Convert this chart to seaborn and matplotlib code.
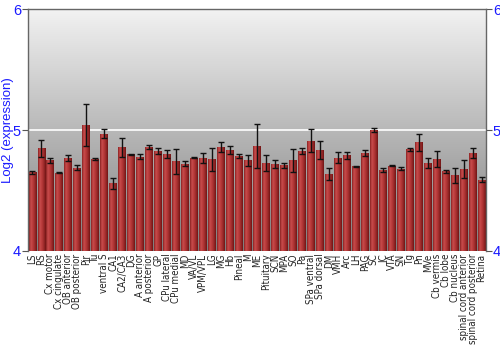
import numpy as np
import pandas as pd
import matplotlib
matplotlib.use("Agg")
import matplotlib.pyplot as plt
import seaborn as sns
from matplotlib import font_manager
from matplotlib.colors import LinearSegmentedColormap

categories = ["LS", "RS", "Cx motor", "Cx cingulate", "OB anterior", "OB posterior", "Pir", "Tu",
              "ventral S", "CA1", "CA2/CA3", "DG", "A anterior", "A posterior", "GP", "CPu lateral",
              "CPu medial", "MD", "VA/VL", "VPM/VPL", "LG", "MG", "Hb", "Pineal", "M", "ME",
              "Pituitary", "SCN", "MPA", "SO", "Pa", "SPa ventral", "SPa dorsal", "DM", "VMH", "Arc",
              "LH", "PAG", "SC", "IC", "VTA", "SN", "Tg", "Pn", "MVe", "Cb vermis", "Cb lobe",
              "Cb nucleus", "spinal cord anterior", "spinal cord posterior", "Retina"]
values = [4.65, 4.85, 4.75, 4.645, 4.77, 4.69, 5.04, 4.76, 4.97, 4.56, 4.857, 4.80, 4.78, 4.86,
          4.83, 4.80, 4.74, 4.72, 4.77, 4.77, 4.76, 4.86, 4.835, 4.785, 4.75, 4.87, 4.73, 4.72,
          4.71, 4.75, 4.83, 4.91, 4.835, 4.64, 4.77, 4.79, 4.70, 4.81, 5.00, 4.67, 4.705, 4.68,
          4.84, 4.90, 4.73, 4.76, 4.66, 4.625, 4.68, 4.81, 4.59]
errors = [0.01, 0.07, 0.02, 0.004, 0.025, 0.02, 0.175, 0.005, 0.035, 0.045, 0.08, 0.004, 0.02, 0.02,
          0.025, 0.035, 0.10, 0.02, 0.005, 0.04, 0.095, 0.045, 0.03, 0.02, 0.045, 0.18, 0.065, 0.03,
          0.02, 0.095, 0.025, 0.095, 0.075, 0.05, 0.045, 0.03, 0.004, 0.025, 0.02, 0.02, 0.005, 0.012,
          0.012, 0.07, 0.04, 0.065, 0.012, 0.065, 0.075, 0.04, 0.02]
y_ticks = [4, 5, 6]

df = pd.DataFrame({"region": categories, "value": values, "err": errors})

plt.rcParams['font.family'] = ['Liberation Sans', 'DejaVu Sans']

# pick a narrow font for the category labels if one is installed
narrow = None
for f in font_manager.fontManager.ttflist:
    if f.name == "Liberation Sans Narrow":
        narrow = ("Liberation Sans Narrow", "normal")
        break
if narrow is None:
    for f in font_manager.fontManager.ttflist:
        if f.name == "DejaVu Sans" and "ondensed" in f.fname and "Bold" not in f.fname and "Oblique" not in f.fname:
            narrow = ("DejaVu Sans", "condensed")
            break

fig = plt.figure(figsize=(5, 3.5), dpi=100)
ax = fig.add_axes([0.056, 0.283, 0.916, 0.691])

sns.barplot(data=df, x="region", y="value", color="#b03030", width=0.88,
            errorbar=None, ax=ax, zorder=2, saturation=1)

ax.set_ylim(4, 6)
ax.set_xlim(-0.5, len(categories) - 0.5)

# background gradient
bg = LinearSegmentedColormap.from_list("bg", ["#7e7e7e", "#f2f2f2"])
grad = np.linspace(0, 1, 256).reshape(-1, 1)
ax.imshow(grad, aspect="auto", cmap=bg, origin="lower",
          extent=[-0.5, len(categories) - 0.5, 4, 6], zorder=0)

# cylinder shading on bars
barcm = LinearSegmentedColormap.from_list("bar", ["#8a2222", "#c84c4c", "#b83a3a", "#9a2a2a", "#701414"])
hgrad = np.linspace(0, 1, 64).reshape(1, -1)
for p in ax.patches:
    x0, w, h = p.get_x(), p.get_width(), p.get_height()
    im = ax.imshow(hgrad, aspect="auto", cmap=barcm, extent=[x0, x0 + w, 4, p.get_y() + h], zorder=2.5)
    im.set_clip_path(p)

ax.axhline(5, color="white", lw=1.2, zorder=1)
ax.errorbar(x=np.arange(len(categories)), y=df["value"], yerr=df["err"], fmt="none",
            ecolor="#111111", elinewidth=1, capsize=2, capthick=1, zorder=3)

ax.set_yticks(y_ticks)
ax.set_yticklabels([str(t) for t in y_ticks], color="#1a1aff", fontsize=10.5)
ax.tick_params(axis="y", which="both", left=True, right=True, labelleft=True, labelright=True,
               length=4, color="#555555", pad=1)
ax.tick_params(axis="x", length=0, pad=2, labelcolor="#222222")
for lab in ax.get_xticklabels():
    lab.set_rotation(90)
    if narrow is not None:
        lab.set_family(narrow[0])
        lab.set_stretch(narrow[1])
        lab.set_fontsize(7.0)
    else:
        lab.set_fontsize(6.0)
ax.set_xlabel("")
ax.set_ylabel("Log2 (expression)", color="#1a1aff", fontsize=9.5)
ax.yaxis.set_label_coords(-0.031, 0.5)
for s in ["left", "top", "right"]:
    ax.spines[s].set_color("#666666")
    ax.spines[s].set_linewidth(1)
ax.spines["bottom"].set_visible(False)
ax.set_xlim(-0.5, len(categories) - 0.5)
ax.set_ylim(4, 6)

fig.savefig("out.png", dpi=100)
